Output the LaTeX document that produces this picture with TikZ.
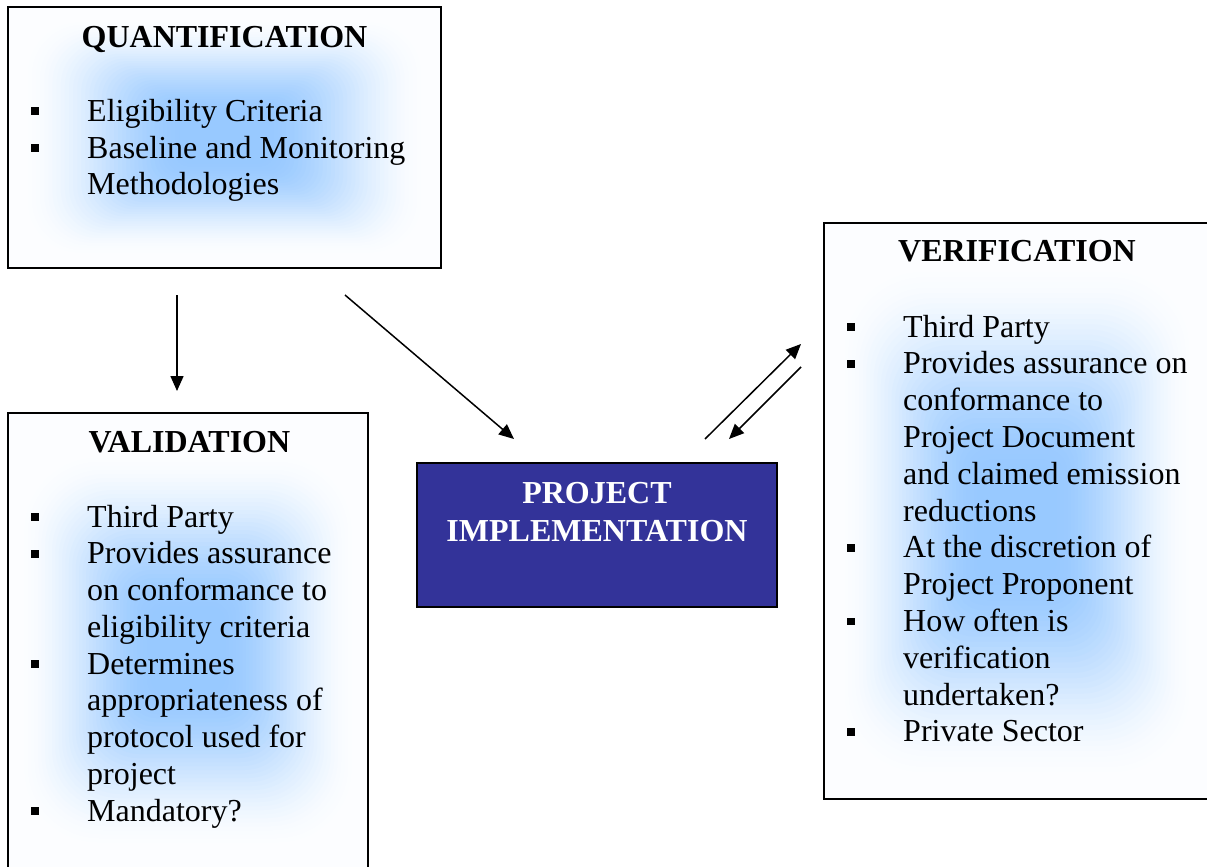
\documentclass[tikz,border=0pt]{standalone}
\usepackage{fontspec}
\setmainfont{Liberation Serif}
\usetikzlibrary{arrows.meta}

\definecolor{glowblue}{RGB}{150,200,255}
\definecolor{implblue}{RGB}{51,51,153}

% soft rectangular blue glow filling the area (#1,#2)-(#3,#4)
\newcommand\glowpatch[4]{%
  \pgfmathsetmacro\gcx{(#1+#3)/2}%
  \pgfmathsetmacro\gcy{(#2+#4)/2}%
  \pgfmathsetmacro\ghw{(#3-#1)/2}%
  \pgfmathsetmacro\ghh{(#4-#2)/2}%
  \pgfmathsetmacro\grr{0.45*min(\ghw,\ghh)}%
  \foreach \k in {0,...,50}{%
    \pgfmathsetmacro\gT{1-\k/50}%
    \pgfmathsetmacro\gS{min(1,max(0,(1-\gT)/0.8))}%
    \pgfmathsetmacro\gP{3+95*\gS*\gS*(3-2*\gS)}%
    \pgfmathsetmacro\gR{max(0.5,\gT*\grr)}%
    \fill[glowblue!\gP!white, rounded corners=\gR pt]
      (\gcx-\gT*\ghw,\gcy-\gT*\ghh) rectangle (\gcx+\gT*\ghw,\gcy+\gT*\ghh);
  }%
}

\tikzset{
  panel/.style={draw=black, line width=2pt, fill=glowblue!3!white, inner sep=0pt},
  implbox/.style={draw=black, line width=2pt, fill=implblue, inner sep=0pt},
  head/.style={anchor=base, inner sep=0pt, font=\fontsize{32}{37}\selectfont\bfseries},
  itemtxt/.style={anchor=base west, inner sep=0pt, font=\fontsize{32}{37}\selectfont},
  bul/.style={fill=black, minimum size=7.5pt, inner sep=0pt, outer sep=0pt},
  flow/.style={line width=1.5pt, -{Triangle[length=15pt,width=13pt]}},
}

\begin{document}
\begin{tikzpicture}[x=1pt,y=-1pt]
\useasboundingbox (0,0) rectangle (1207,867);
\clip (0,0) rectangle (1207,867);
\fill[white] (0,0) rectangle (1207,867);

% ---------- boxes ----------
\node[panel, minimum width=433pt, minimum height=261pt] (quant) at (224.5,137.5) {};
\glowpatch{20}{18}{429}{257}
\node[panel, minimum width=360pt, minimum height=507pt] (valid) at (188,666.5) {};
\glowpatch{18}{450}{358}{850}
\node[panel, minimum width=390pt, minimum height=576pt] (verif) at (1019,511) {};
\glowpatch{838}{262}{1196}{782}
\node[implbox, minimum width=360pt, minimum height=144pt] (impl) at (597,535) {};

% ---------- quantification ----------
\node[head] (qh) at (224.5,48) {QUANTIFICATION};
\node[bul] (qb1) at (35,111) {};
\node[itemtxt] (q1) at (87,121) {Eligibility Criteria};
\node[bul] (qb2) at (35,148) {};
\node[itemtxt] (q2) at (87,158) {Baseline and Monitoring};
\node[itemtxt] (q3) at (87,194.5) {Methodologies};

% ---------- validation ----------
\node[head] (vh) at (189.5,452) {VALIDATION};
\foreach \t [count=\i from 0] in {Third Party, Provides assurance, on conformance to,
    eligibility criteria, Determines, appropriateness of, protocol used for, project, Mandatory?}{
  \node[itemtxt] (v\i) at (87,527+36.75*\i) {\t};
}
\foreach \i in {0,1,4,8}{
  \node[bul] (vb\i) at (35,517+36.75*\i) {};
}

% ---------- verification ----------
\node[head] (rh) at (1017,261) {VERIFICATION};
\foreach \t [count=\i from 0] in {Third Party, Provides assurance on, conformance to,
    Project Document, and claimed emission, reductions, At the discretion of,
    Project Proponent, How often is, verification, undertaken?, Private Sector}{
  \node[itemtxt] (r\i) at (903,337+36.8*\i) {\t};
}
\foreach \i in {0,1,6,8,11}{
  \node[bul] (rb\i) at (851,327+36.8*\i) {};
}

% ---------- project implementation ----------
\node[head, text=white] (p1) at (597,503) {PROJECT};
\node[head, text=white] (p2) at (597,541) {IMPLEMENTATION};

% ---------- connectors ----------
\coordinate (qd0) at (177,295);
\coordinate (qd1) at (177,391);
\coordinate (qi0) at (345,295);
\coordinate (qi1) at (514,439);
\coordinate (iv0) at (705,439);
\coordinate (iv1) at (801,344);
\coordinate (vi0) at (801,367);
\coordinate (vi1) at (729,439);
\draw[flow] (qd0) -- (qd1);
\draw[flow] (qi0) -- (qi1);
\draw[flow] (iv0) -- (iv1);
\draw[flow] (vi0) -- (vi1);
\end{tikzpicture}
\end{document}
